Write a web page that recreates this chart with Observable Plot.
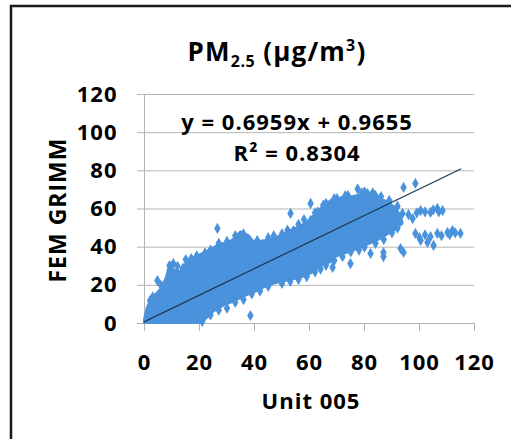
<!DOCTYPE html>
<html>
<head>
<meta charset="utf-8">
<script src="https://cdn.jsdelivr.net/npm/d3@7"></script>
<script src="https://cdn.jsdelivr.net/npm/@observablehq/plot@0.6"></script>
<style>
  html, body { margin: 0; padding: 0; background: #fff; }
</style>
</head>
<body>
<div id="chart"></div>
<script>
// ---- Data ----
const xTicks = [0, 20, 40, 60, 80, 100, 120];
const yTicks = [0, 20, 40, 60, 80, 100, 120];

// Dense cloud of points (Unit 005 vs FEM GRIMM): upper and lower envelope
const cloudX      = [0, 1, 2, 4, 6, 8, 9, 11, 13, 16, 19, 21, 22, 25, 27, 29, 32, 35, 38, 40, 44, 48, 53, 57, 60, 64, 68, 70, 72, 76, 81, 85, 88, 91, 93, 94];
const cloudTop    = [2, 8, 11, 15, 18, 24, 30, 28, 27, 33, 35, 36.5, 37, 39.5, 41, 42, 43.5, 48, 46, 42.5, 43.5, 45, 48.5, 51, 54, 60, 64.5, 65, 66, 66.5, 68, 66, 64, 61, 57, 53];
const cloudBottom = [0, 0, 0, 0, 0, 0, 0, 0, 0, 0, 0, 0, 1.5, 5.8, 7.5, 9.2, 11, 13, 15, 16, 19, 21, 22.7, 23.8, 25.5, 29.5, 32, 35, 36, 38, 41, 43.5, 46, 48.5, 51, 52];

// Individual scattered points [Unit 005, FEM GRIMM]
const scatterPoints = [
  [4.7, 22.5], [9.1, 30.4], [10.5, 31.4], [15, 33.5], [19, 35.5], [24, 38.5], [26.5, 49.8],
  [30, 43], [45, 45], [50, 47], [53.1, 57.7], [54.2, 48.7], [60.4, 62.9], [60.4, 54],
  [63, 58.5], [66, 63], [70, 65.5], [74, 67], [77.5, 70.5], [79, 68.5], [81.1, 68.1], [84, 67],
  [88.7, 62.9], [90, 58], [92, 55], [94.2, 71.3], [98.5, 73.4],
  [93.8, 57.7], [96, 57], [97.5, 55], [99, 58], [100.4, 59.2], [102, 58.5], [104, 58.2],
  [105, 59.5], [106.5, 60.3], [107, 58.5], [108.4, 59.2],
  [98.5, 47.2], [100, 45], [100.4, 43.5], [102, 46.5], [102.9, 42.5], [104, 45.5], [105.1, 40.9],
  [106.5, 47.2], [108, 46], [110.2, 47.7], [111, 46.5], [112, 48.7], [113, 47.5], [114.9, 47.2],
  [93.1, 39.3], [94.2, 37.2], [86.9, 37.2], [82.2, 36.7], [86.9, 35.1], [74.9, 31.4], [68.4, 29.4],
  [30, 8], [36, 12.5], [42, 17], [50, 21], [56, 23], [62, 27], [66, 30.5], [72, 35], [78, 38.5],
  [84, 42], [90, 47.5], [38.5, 4.2],
  [2, 12], [3, 14], [6, 20], [12, 30], [14, 29], [17, 34], [22, 37], [27, 42], [33, 46], [36, 47],
  [41, 43.5], [47, 46], [52, 49], [56, 52], [58, 54.5], [62, 58], [65, 62], [69, 65.5], [73, 67],
  [80, 69], [83, 68.5], [86, 66.5], [89, 64.5], [92, 61.5],
  [21, 1], [24, 4.5], [27, 7], [33, 11], [39, 15.5], [45, 19.5], [53, 22], [59, 24.5], [64, 28.5],
  [69, 33], [75, 37.5], [80, 40], [87, 44], [92, 50]
];

// Linear trend line shown on the chart
const fitSlope = 0.6959;
const fitIntercept = 0.9655;
const fitX = [0, 115];
const equationLabels = ["y = 0.6959x + 0.9655", "R\u00B2 = 0.8304"];

// ---- Build tables ----
const cloud = cloudX.map((x, i) => ({x, hi: cloudTop[i], lo: cloudBottom[i]}));
const scatter = scatterPoints.map(([x, y]) => ({x, y}));
const fit = fitX.map(x => ({x, y: fitSlope * x + fitIntercept}));

const blue = "#4a92db";
const grid = "#b5b5b5";

const chart = Plot.plot({
  width: 511,
  height: 439,
  marginLeft: 144,
  marginRight: 37,
  marginTop: 94,
  marginBottom: 116,
  style: {
    fontFamily: "'Open Sans', sans-serif",
    fontWeight: "bold",
    fontSize: "22px",
    letterSpacing: "1px",
    color: "#000",
    background: "#fff",
    overflow: "visible"
  },
  x: {domain: [0, 120]},
  y: {domain: [0, 120]},
  marks: [
    Plot.gridY({ticks: yTicks.filter(d => d > 0), stroke: grid, strokeOpacity: 1, strokeWidth: 1}),
    Plot.axisY({ticks: yTicks, tickSize: 7, tickPadding: 20, stroke: grid, label: null}),
    Plot.axisX({ticks: xTicks, tickSize: 8, tickPadding: 23, stroke: grid, label: null}),
    Plot.ruleX([0], {stroke: grid}),
    Plot.ruleY([0], {stroke: grid}),
    Plot.areaY(cloud, {x: "x", y1: "lo", y2: "hi", fill: blue, stroke: blue, strokeWidth: 2, strokeLinejoin: "round", curve: "linear"}),
    Plot.dot(scatter, {x: "x", y: "y", symbol: "diamond", r: 3.4, fill: blue}),
    Plot.line(fit, {x: "x", y: "y", stroke: "#1b3a5c", strokeWidth: 1.2}),
    Plot.text(equationLabels, {
      text: d => d,
      x: () => 55.5,
      y: (d, i) => (i === 0 ? 105 : 89),
      textAnchor: "middle",
      fill: "#000"
    })
  ]
});

const svg = d3.select(chart);

// outer border (left and top edges visible in the reference)
svg.append("path")
  .attr("d", "M11,439V6H511")
  .attr("fill", "none")
  .attr("stroke", "#1a1a1a")
  .attr("stroke-width", 2.5);

// title with subscript and superscript
const title = svg.append("text")
  .attr("x", 277).attr("y", 61)
  .attr("text-anchor", "middle")
  .attr("font-size", 26)
  .attr("letter-spacing", "1.2px")
  .attr("fill", "#000");
title.append("tspan").text("PM");
title.append("tspan").attr("font-size", 16).attr("letter-spacing", "0.5px").attr("dy", 6).text("2.5");
title.append("tspan").attr("dy", -6).text(" (\u00B5g/m");
title.append("tspan").attr("font-size", 16).attr("dy", -10).text("3");
title.append("tspan").attr("dy", 10).text(")");

// y axis title
svg.append("text")
  .attr("transform", "translate(66,210) rotate(-90)")
  .attr("text-anchor", "middle")
  .attr("font-size", 23)
  .attr("letter-spacing", "1px")
  .attr("fill", "#000")
  .text("FEM GRIMM");

// x axis title
svg.append("text")
  .attr("x", 311).attr("y", 409)
  .attr("text-anchor", "middle")
  .attr("font-size", 22)
  .attr("letter-spacing", "1px")
  .attr("fill", "#000")
  .text("Unit 005");

document.getElementById("chart").appendChild(chart);
</script>
</body>
</html>
